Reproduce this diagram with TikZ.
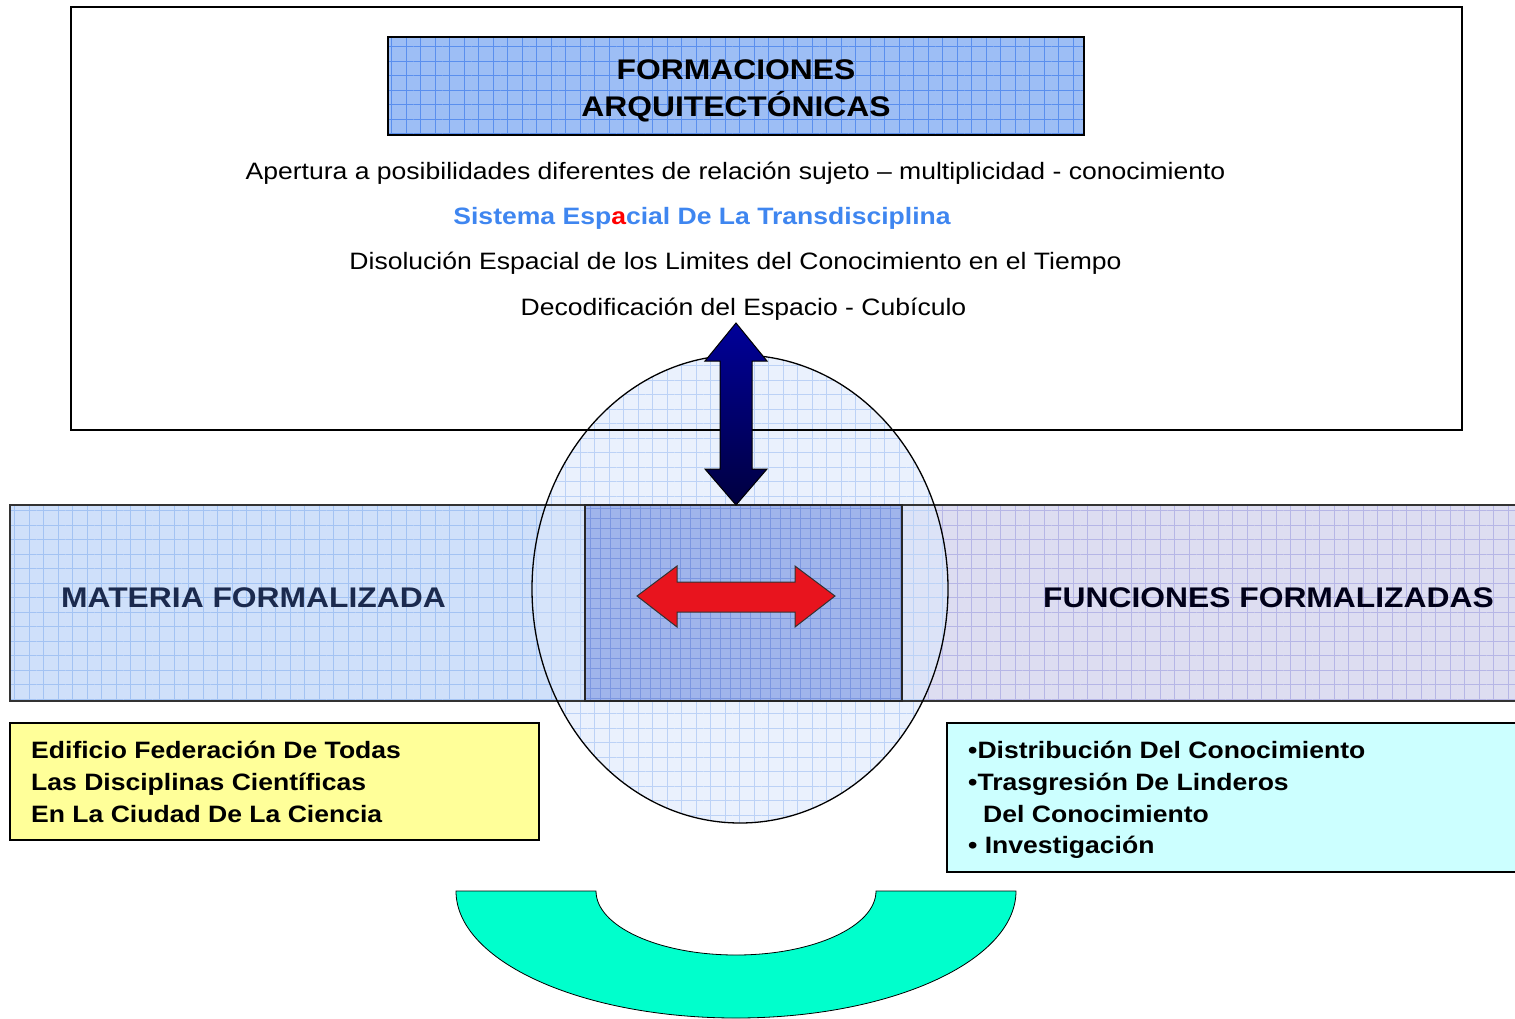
\documentclass[tikz,border=0pt]{standalone}
\usepackage{fontspec}
\setmainfont[FakeStretch=1.12]{Liberation Sans}
\usetikzlibrary{patterns.meta}
\definecolor{titlefill}{HTML}{9DBEF5}
\definecolor{titlegrid}{HTML}{5A8FEE}
\definecolor{leftfill}{HTML}{CFE0FA}
\definecolor{leftgrid}{HTML}{A3C3F3}
\definecolor{rightfill}{HTML}{DDDDF1}
\definecolor{rightgrid}{HTML}{B6B6E6}
\definecolor{midfill}{HTML}{A0B5EB}
\definecolor{midgrid}{HTML}{7C97E0}
\definecolor{ellfill}{HTML}{DCE7FB}
\definecolor{ellgrid}{HTML}{BCD2F6}
\definecolor{sysblue}{HTML}{3F86F0}
\definecolor{navytext}{HTML}{1B2A4E}
\definecolor{boxyellow}{HTML}{FFFF99}
\definecolor{boxcyan}{HTML}{CCFFFF}
\definecolor{arcteal}{HTML}{00FFCC}
\definecolor{arrowtop}{HTML}{000099}
\definecolor{arrowbot}{HTML}{000040}
\definecolor{arrowred}{HTML}{E8141E}
\begin{document}
\begin{tikzpicture}[x=1pt,y=-1pt,inner sep=0pt,
  gridfill/.style n args={3}{fill=#1, postaction={pattern={Hatch[angle=0,distance=#3,line width=0.5pt]}, pattern color=#2}},
  small/.style={font=\fontsize{23.7}{32}\selectfont},
  smallb/.style={font=\fontsize{23.7}{32}\selectfont\bfseries},
  big/.style={font=\fontsize{28.4}{34}\selectfont\bfseries},
  frameline/.style={draw=black,line width=1.4pt},
  bandline/.style={draw=black!80,line width=1.4pt}]
\useasboundingbox (0,0) rectangle (1515,1018);

% title box
\path[gridfill={titlefill}{titlegrid}{14.5pt}] (388,37) rectangle (1084,135);
\draw[draw=black, line width=2pt] (388,37) rectangle (1084,135);
\node[big, anchor=base] (t1) at (736,79) {FORMACIONES};
\node[big, anchor=base] (t2) at (736,116) {ARQUITECTÓNICAS};

% text lines
\node[small, anchor=base] (l1) at (735.5,179) {Apertura a posibilidades diferentes de relación sujeto – multiplicidad - conocimiento};
\node[smallb, anchor=base, text=sysblue] (l2) at (702,224) {Sistema Esp{\color{red}a}cial De La Transdisciplina};
\node[small, anchor=base] (l3) at (735.5,269) {Disolución Espacial de los Limites del Conocimiento en el Tiempo};
\node[small, anchor=base] (l4) at (743.5,315) {Decodificación del Espacio - Cubículo};

% band fills
\path[gridfill={leftfill}{leftgrid}{14.5pt}] (10,505) rectangle (585,701);
\path[gridfill={rightfill}{rightgrid}{14.5pt}] (902,505) rectangle (1520,701);

% ellipse fill
\path[gridfill={ellfill}{ellgrid}{14.5pt}, fill opacity=0.6] (740,589) ellipse [x radius=208pt, y radius=234pt];

% frame and band borders
\draw[frameline] (71,7) rectangle (1462,430);
\draw[bandline] (10,505) rectangle (585,701);
\draw[bandline] (902,505) rectangle (1520,701);
\node[big, anchor=base west, text=navytext] (mat) at (61,607) {MATERIA FORMALIZADA};
\node[big, anchor=base west, text=black!90!blue] (fun) at (1043,607) {FUNCIONES FORMALIZADAS};

% ellipse outline
\draw[black, line width=1.3pt] (740,589) ellipse [x radius=208pt, y radius=234pt];
\node (ell) at (740,589) {};

% central rectangle
\path[gridfill={midfill}{midgrid}{10pt}] (585,505) rectangle (902,701);
\draw[bandline, draw=black!85] (585,505) rectangle (902,701);
\node (mid) at (743.5,603) {};

% vertical arrow
\draw[top color=arrowtop, bottom color=arrowbot, draw=black, line width=1pt, line join=miter]
  (736,323) -- (767,361) -- (752,361) -- (752,469) -- (767,469) -- (736,505)
  -- (705,469) -- (720,469) -- (720,361) -- (705,361) -- cycle;

% horizontal arrow
\draw[fill=arrowred, draw=black!80, line width=1pt, line join=miter]
  (637,596) -- (677,566) -- (677,582) -- (795,582) -- (795,566) -- (835,596)
  -- (795,627) -- (795,612) -- (677,612) -- (677,627) -- cycle;

% yellow box
\draw[fill=boxyellow, draw=black, line width=1.4pt] (10,723) rectangle (539,840);
\node[smallb, anchor=base west] (y1) at (31,758) {Edificio Federación De Todas};
\node[smallb, anchor=base west] (y2) at (31,790) {Las Disciplinas Científicas};
\node[smallb, anchor=base west] (y3) at (31,822) {En La Ciudad De La Ciencia};

% cyan box
\draw[fill=boxcyan, draw=black, line width=1.4pt] (947,723) rectangle (1520,872);
\node[smallb, anchor=base west] (c1) at (968,758) {•Distribución Del Conocimiento};
\node[smallb, anchor=base west] (c2) at (968,790) {•Trasgresión De Linderos};
\node[smallb, anchor=base west] (c3) at (983,822) {Del Conocimiento};
\node[smallb, anchor=base west] (c4) at (968,853) {• Investigación};

% teal arc
\draw[fill=arcteal, draw=black, line width=0.8pt]
  (456,891) -- (596,891) arc[start angle=180, end angle=360, x radius=140pt, y radius=64pt]
  -- (1016,891) arc[start angle=0, end angle=-180, x radius=280pt, y radius=127pt] -- cycle;
\end{tikzpicture}
\end{document}
